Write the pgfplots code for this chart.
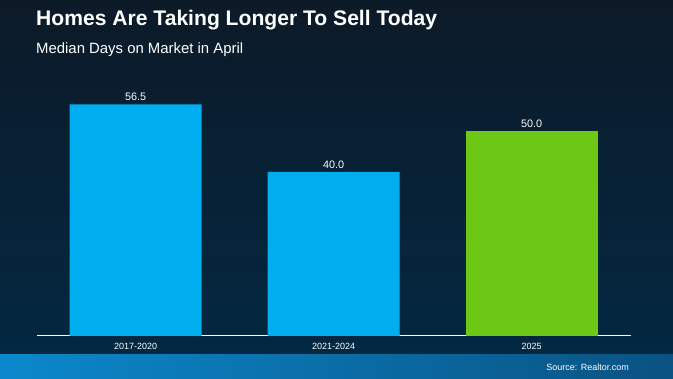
\documentclass[border=0pt]{standalone}
\usepackage{fontspec}
\setmainfont{Liberation Sans}
\usepackage{pgfplots}
\pgfplotsset{compat=1.18}
\definecolor{bgtop}{HTML}{0C1A28}
\definecolor{bgbot}{HTML}{032842}
\definecolor{stripL}{HTML}{0B88CC}
\definecolor{stripR}{HTML}{0A5282}
\definecolor{barblue}{HTML}{00AEEF}
\definecolor{bargreen}{HTML}{6CC814}
\begin{document}
\begin{tikzpicture}
\shade[top color=bgtop, bottom color=bgbot] (0pt,24pt) rectangle (673pt,379pt);
\shade[left color=stripL, right color=stripR] (0pt,0pt) rectangle (673pt,24pt);
\node[anchor=base west, font=\bfseries\fontsize{21.1}{26}\selectfont, text=white, inner sep=0pt] at (36pt,353pt) {Homes Are Taking Longer To Sell Today};
\node[anchor=base west, font=\fontsize{14.9}{17}\selectfont, text=white, inner sep=0pt] at (36pt,325.7pt) {Median Days on Market in April};
\node[anchor=base east, font=\fontsize{9}{11}\selectfont, text=white, inner sep=0pt] at (629pt,8pt) {Source: Realtor.com};
\begin{axis}[
  at={(36.7pt,43pt)}, anchor=south west, scale only axis, width=594pt, height=246pt,
  xmin=-0.5, xmax=2.5, ymin=0, ymax=60,
  axis x line*=bottom, axis y line=none,
  x axis line style={white, line width=1pt, -},
  xtick={0,1,2}, xticklabels={2017-2020,2021-2024,2025}, major tick length=0pt,
  xticklabel style={text=white, font=\fontsize{9}{11}\selectfont, yshift=-3.5pt},
  ytick=\empty,
  ybar, bar width=132pt,
  /pgf/number format/assume math mode=true,
  nodes near coords={\pgfmathprintnumber[fixed,fixed zerofill,precision=1]{\pgfplotspointmeta}},
  nodes near coords style={text=white, font=\fontsize{10.8}{12}\selectfont},
  clip=false
]
\addplot[fill=barblue, draw=none, bar shift=0pt] coordinates {(0,56.5) (1,40.0)};
\addplot[fill=bargreen, draw=none, bar shift=0pt] coordinates {(2,50.0)};
\end{axis}
\pgfresetboundingbox
\path (0pt,0pt) rectangle (673pt,379pt);
\end{tikzpicture}
\end{document}
